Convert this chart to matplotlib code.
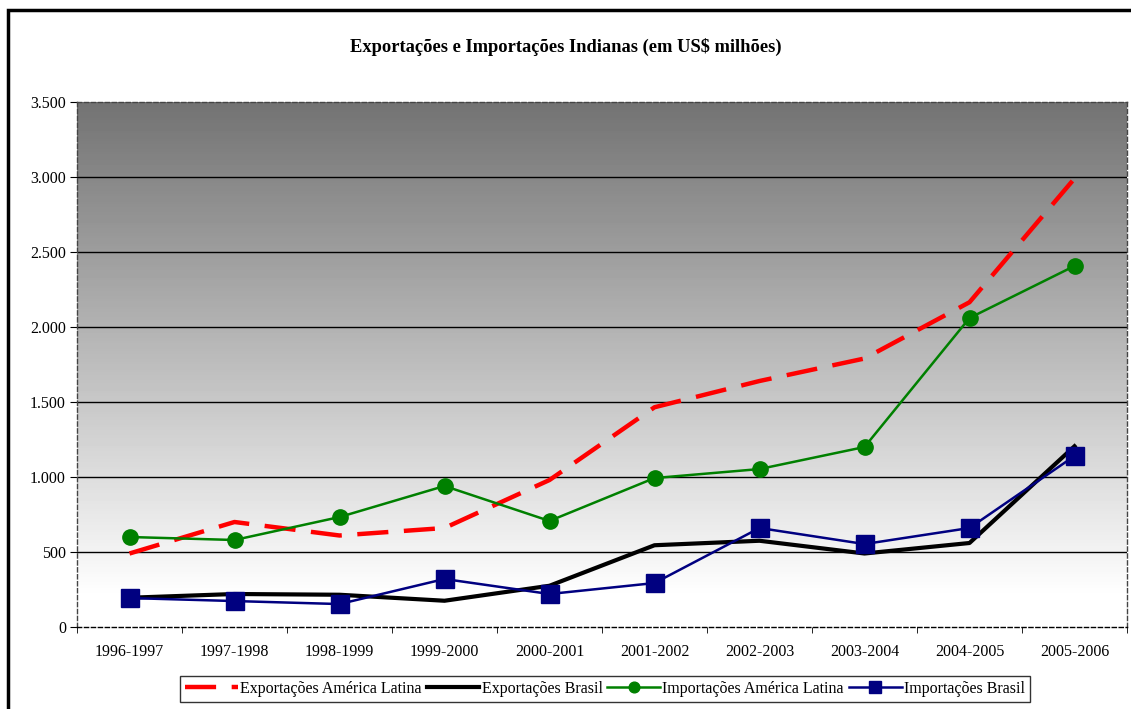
import numpy as np
import matplotlib.pyplot as plt
from matplotlib.patches import Rectangle
from matplotlib.ticker import FuncFormatter, MultipleLocator

plt.rcParams['font.family'] = ['Liberation Serif', 'DejaVu Serif']

anos = ['1996-1997', '1997-1998', '1998-1999', '1999-2000', '2000-2001',
        '2001-2002', '2002-2003', '2003-2004', '2004-2005', '2005-2006']
exp_america_latina = [490, 700, 610, 660, 980, 1465, 1640, 1790, 2165, 2990]
exp_brasil = [195, 220, 215, 175, 275, 545, 575, 490, 560, 1205]
imp_america_latina = [600, 580, 733, 940, 707, 993, 1053, 1200, 2060, 2407]
imp_brasil = [193, 173, 153, 320, 220, 293, 660, 553, 660, 1140]

fig = plt.figure(figsize=(11.31, 7.09), dpi=100)
ax = fig.add_axes([77 / 1131, 82 / 709, 1050 / 1131, 525 / 709])

x = np.arange(len(anos))

# fundo em degradê (cinza no topo, branco embaixo)
grad = np.linspace(3500, 0, 200)
tons = np.clip(0.45 + 0.55 * (3500 - grad) / 3300, 0, 1)
ax.imshow(tons[:, None], aspect='auto', cmap='gray', vmin=0, vmax=1,
          extent=(-0.5, len(anos) - 0.5, 0, 3500), zorder=0, interpolation='nearest')

for v in range(500, 3500, 500):
    ax.axhline(v, color='black', lw=1, zorder=1)

ax.plot(x, exp_america_latina, color='#ff0000', lw=3.2, dashes=(7, 3.5),
        label='Exportações América Latina', zorder=3)
ax.plot(x, exp_brasil, color='black', lw=3, label='Exportações Brasil', zorder=4)
ax.plot(x, imp_america_latina, color='#008000', lw=1.8, marker='o', markersize=11,
        label='Importações América Latina', zorder=5)
ax.plot(x, imp_brasil, color='#000080', lw=1.8, marker='s', markersize=13,
        label='Importações Brasil', zorder=6)

ax.set_xlim(-0.5, len(anos) - 0.5)
ax.set_ylim(0, 3500)
ax.set_xticks(x)
ax.set_xticklabels(anos, fontsize=11.5)
ax.set_xticks(np.arange(-0.5, len(anos)), minor=True)
ax.tick_params(axis='x', which='major', length=0, pad=12)
ax.tick_params(axis='x', which='minor', length=4, direction='out')
ax.yaxis.set_major_locator(MultipleLocator(500))
ax.yaxis.set_major_formatter(FuncFormatter(lambda v, p: f'{int(v):,}'.replace(',', '.')))
ax.tick_params(axis='y', length=5, direction='out', labelsize=11.5, pad=3)

for s in ax.spines.values():
    s.set_linestyle((0, (3, 2)))
    s.set_color('#444444')
    s.set_linewidth(1)
ax.spines['bottom'].set_color('black')

fig.text(0.5, 1 - 47 / 709, 'Exportações e Importações Indianas (em US$ milhões)',
         ha='center', va='center', fontsize=13.3, fontweight='bold')

leg = fig.legend(loc='center', bbox_to_anchor=(605 / 1131, 1 - 689 / 709), ncol=4,
                 fontsize=11.5, frameon=True, fancybox=False, handlelength=3.3,
                 handletextpad=0.15, columnspacing=0.3, borderpad=0.3, markerscale=0.7)
leg.get_frame().set_edgecolor('black')
leg.get_frame().set_linewidth(1)

# moldura externa
fig.patches.append(Rectangle((7.5 / 1131, -0.1), 1.2, 1 - 9.5 / 709 + 0.1,
                             transform=fig.transFigure, fill=False,
                             edgecolor='black', lw=2.5))

fig.savefig('out.png', dpi=100)
